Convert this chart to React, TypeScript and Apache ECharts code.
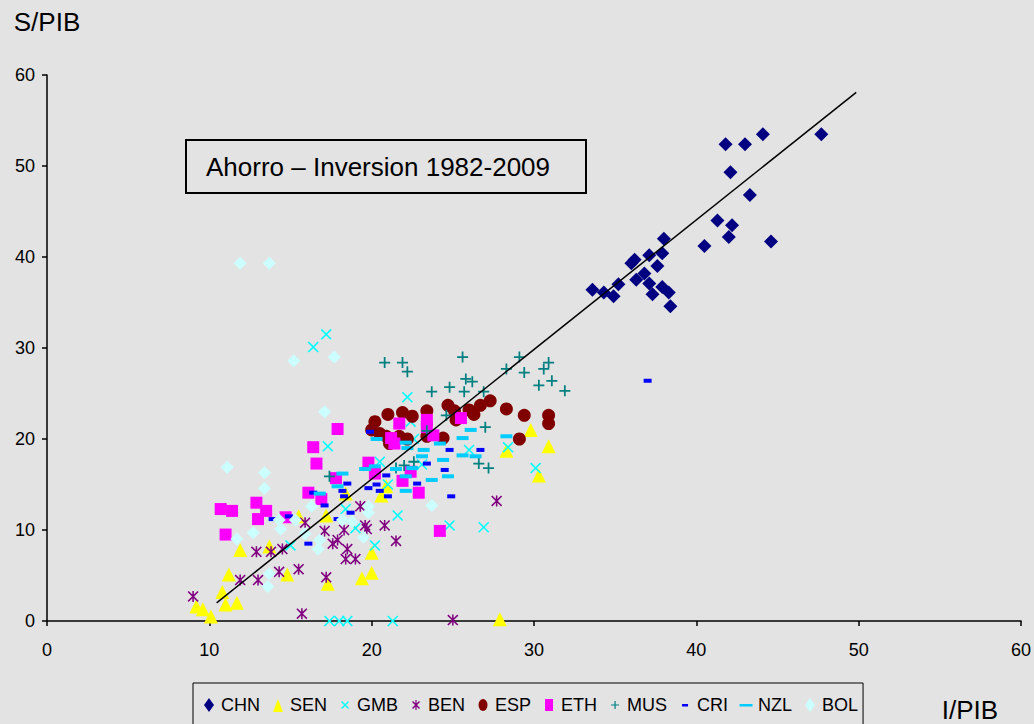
import React, { useEffect, useRef } from "react";
import * as echarts from "echarts";

const seriesNames = ["CHN", "SEN", "GMB", "BEN", "ESP", "ETH", "MUS", "CRI", "NZL", "BOL"];
const seriesColors = ["#000080", "#ffff00", "#00ffff", "#800080", "#800000", "#ff00ff", "#008080", "#0000ff", "#00ccff", "#ccffff"];

const CHN = [
  [33.6, 36.4], [34.3, 36.1], [34.9, 35.7], [35.2, 37.0], [36.2, 39.7], [36.0, 39.3], [36.3, 37.5],
  [36.8, 38.2], [37.1, 40.2], [37.1, 37.1], [37.3, 35.9], [37.6, 39.0], [37.9, 40.4], [37.9, 36.7],
  [38.0, 42.0], [38.3, 36.1], [38.4, 34.6], [40.5, 41.2], [41.3, 44.0], [41.8, 52.4], [42.0, 42.2],
  [42.1, 49.3], [42.2, 43.5], [43.0, 52.4], [43.3, 46.8], [44.1, 53.5], [44.6, 41.7], [47.7, 53.5],
];
const SEN = [
  [9.2, 1.6], [9.6, 1.3], [10.1, 0.5], [10.8, 3.2], [11.0, 1.8], [11.2, 5.1], [11.7, 2.0], [11.9, 7.8],
  [13.7, 8.2], [14.8, 5.1], [15.5, 11.5], [17.2, 11.6], [17.3, 4.1], [18.4, 14.0], [19.4, 4.7],
  [20.0, 5.3], [20.0, 7.5], [20.6, 13.8], [20.9, 14.8], [27.9, 0.2], [28.3, 18.7], [29.8, 21.0],
  [30.3, 16.0], [30.9, 19.2],
];
const GMB = [
  [15.0, 8.3], [16.4, 30.1], [17.2, 31.5], [17.3, 19.2], [17.4, 0], [18.0, 0], [18.5, 0], [18.4, 12.3],
  [19.0, 10.2], [20.2, 8.3], [20.5, 17.5], [21.0, 15.0], [21.3, 0], [21.6, 11.6], [22.2, 24.6],
  [22.4, 21.9], [22.6, 20.0], [23.1, 17.2], [24.8, 10.5], [26.0, 18.8], [26.9, 10.3], [28.4, 19.1],
  [30.1, 16.8],
];
const BEN = [
  [9.0, 2.7], [11.9, 4.5], [12.9, 7.6], [13.0, 4.5], [13.8, 7.6], [14.3, 5.4], [14.5, 7.9], [15.5, 5.7],
  [15.7, 0.8], [15.9, 10.8], [17.1, 9.9], [17.2, 4.8], [17.6, 8.5], [17.9, 8.9], [18.3, 10.0],
  [18.4, 6.8], [18.5, 7.9], [19.0, 6.8], [19.3, 12.6], [19.6, 10.5], [19.7, 10.1], [20.8, 10.5],
  [21.5, 8.8], [25.0, 0.1], [27.7, 13.2],
];
const ESP = [
  [20.0, 21.0], [20.2, 21.9], [20.5, 20.6], [20.9, 20.3], [21.0, 22.7], [21.1, 19.5], [21.7, 20.3],
  [21.9, 22.9], [22.2, 20.0], [22.5, 22.5], [23.4, 23.1], [23.4, 20.3], [24.4, 20.1], [24.7, 23.7],
  [25.1, 23.1], [25.2, 22.1], [26.0, 23.2], [26.3, 22.7], [26.7, 23.7], [27.3, 24.2], [28.3, 23.3],
  [29.1, 20.0], [29.4, 22.6], [30.9, 22.6], [30.9, 21.7],
];
const ETH = [
  [10.7, 12.3], [11.0, 9.5], [11.4, 12.1], [12.9, 13.0], [13.0, 11.2], [13.5, 12.1], [14.7, 11.4],
  [16.1, 14.1], [16.4, 19.1], [16.6, 17.3], [16.9, 13.4], [17.8, 15.7], [17.9, 21.1], [19.8, 17.4],
  [20.2, 16.2], [21.2, 20.1], [21.4, 19.5], [21.7, 21.7], [21.9, 15.4], [22.4, 16.4], [22.9, 14.1],
  [23.4, 22.1], [23.4, 21.3], [23.8, 20.4], [24.2, 9.9], [25.5, 22.3],
];
const MUS = [
  [17.4, 15.9], [20.8, 28.4], [21.5, 16.8], [21.9, 28.4], [22.0, 17.1], [22.2, 27.4], [22.6, 17.5],
  [23.4, 20.9], [23.7, 25.2], [24.6, 22.6], [24.8, 25.7], [25.6, 29.0], [25.7, 25.2], [25.8, 26.6],
  [26.2, 26.3], [26.6, 17.3], [26.9, 25.2], [27.0, 21.3], [27.2, 16.8], [28.3, 27.7], [29.1, 29.0],
  [29.4, 27.3], [30.3, 25.9], [30.6, 27.7], [30.9, 28.4], [31.1, 26.4], [31.9, 25.3],
];
const CRI = [
  [13.9, 11.2], [14.9, 11.5], [16.1, 8.5], [16.4, 14.1], [17.1, 12.7], [17.9, 11.2], [18.2, 14.3],
  [18.3, 13.7], [18.5, 15.1], [18.7, 11.9], [19.8, 14.6], [19.9, 20.8], [20.3, 15.0], [20.5, 14.3],
  [20.9, 16.0], [21.0, 13.7], [22.8, 15.1], [23.4, 17.3], [24.5, 16.6], [24.8, 18.8], [24.9, 13.7],
  [26.7, 18.8], [37.0, 26.4],
];
const NZL = [
  [16.8, 14.0], [17.9, 14.8], [18.2, 16.2], [19.6, 16.7], [20.2, 17.0], [20.3, 20.0], [21.5, 16.7],
  [22.1, 19.6], [22.2, 19.0], [22.1, 15.9], [22.1, 14.3], [22.5, 16.8], [23.1, 18.1], [23.2, 18.8],
  [23.7, 15.5], [24.2, 19.5], [24.4, 17.7], [24.7, 15.9], [25.6, 20.1], [25.6, 18.2], [26.1, 21.0],
  [26.4, 18.1], [28.3, 20.3],
];
const BOL = [
  [11.7, 9.0], [11.9, 39.3], [11.1, 16.9], [12.7, 9.7], [13.4, 16.3], [13.4, 14.6], [13.6, 3.8],
  [13.7, 5.2], [13.7, 39.3], [14.3, 11.1], [14.4, 10.1], [15.2, 28.6], [15.3, 11.1], [15.9, 9.6],
  [16.3, 12.6], [16.7, 7.9], [16.8, 8.9], [17.1, 23.0], [17.7, 29.0], [18.2, 11.1], [18.8, 10.9],
  [19.5, 9.2], [19.8, 12.6], [19.8, 11.9], [23.7, 12.7],
];
const trendLine = [[10.45, 2.0], [49.85, 58.1]];

const titleText = "Ahorro – Inversion 1982-2009";
const yName = "S/PIB";
const xName = "I/PIB";

const X_PATH = "path://M0,1L1,0L5,4L9,0L10,1L6,5L10,9L9,10L5,6L1,10L0,9L4,5Z";
const STAR_PATH = "path://M0,1L1,0L5,4L9,0L10,1L6,5L10,9L9,10L5,6L1,10L0,9L4,5ZM4.3,0L5.7,0L5.7,10L4.3,10Z";
const PLUS_PATH = "path://M4.2,0L5.8,0L5.8,4.2L10,4.2L10,5.8L5.8,5.8L5.8,10L4.2,10L4.2,5.8L0,5.8L0,4.2L4.2,4.2Z";

const seriesSymbols: any[] = ["diamond", "triangle", X_PATH, STAR_PATH, "circle", "rect", PLUS_PATH, "rect", "rect", "diamond"];
const seriesSizes: any[] = [14, 14, 11, 11, 13, 12, 11, [8, 4], [12, 4], 13];

// legend icons in a 14x14 frame
const F = "path://M0,0M14,14";
const legendIcons = [
  F + "M7,0L12,7L7,14L2,7Z",
  F + "M7,1L12,14L2,14Z",
  F + "M3,4L4,3L7,6L10,3L11,4L8,7L11,10L10,11L7,8L4,11L3,10L6,7Z",
  F + "M3,4L4,3L7,6L10,3L11,4L8,7L11,10L10,11L7,8L4,11L3,10L6,7ZM6.4,2L7.6,2L7.6,12L6.4,12Z",
  F + "M7,1A4.5,6,0,1,1,7,13A4.5,6,0,1,1,7,1Z",
  F + "M3,1L11,1L11,13L3,13Z",
  F + "M6.4,3L7.6,3L7.6,6.4L11,6.4L11,7.6L7.6,7.6L7.6,11L6.4,11L6.4,7.6L3,7.6L3,6.4L6.4,6.4Z",
  F + "M4,6L10,6L10,8.5L4,8.5Z",
  F + "M0.5,6L13.5,6L13.5,8.5L0.5,8.5Z",
  F + "M7,0L12,7L7,14L2,7Z",
];

const seriesData = [CHN, SEN, GMB, BEN, ESP, ETH, MUS, CRI, NZL, BOL];

const FONT = "'Liberation Sans', Arial, sans-serif";

export default function App() {
  const ref = useRef<HTMLDivElement>(null);
  useEffect(() => {
    document.body.style.margin = "0";
    const chart = echarts.init(ref.current!, null, { renderer: "svg" });
    const scatter = seriesNames.map((name, i) => ({
      name,
      type: "scatter",
      data: seriesData[i],
      symbol: seriesSymbols[i],
      symbolSize: seriesSizes[i],
      itemStyle: { color: seriesColors[i], opacity: 1 },
      z: 2 + i * 0.01,
    }));
    chart.setOption({
      animation: false,
      backgroundColor: "#e3e3e3",
      textStyle: { fontFamily: FONT },
      grid: { left: 47, right: 11, top: 75, bottom: 103, containLabel: false },
      xAxis: {
        type: "value",
        min: 0,
        max: 60,
        interval: 10,
        axisLine: { show: true, lineStyle: { color: "#000", width: 1.5 } },
        axisTick: { show: true, inside: false, length: 5, lineStyle: { color: "#000", width: 1.5 } },
        axisLabel: { color: "#000", fontSize: 18, margin: 20, fontFamily: FONT },
        splitLine: { show: false },
      },
      yAxis: {
        type: "value",
        min: 0,
        max: 60,
        interval: 10,
        name: yName,
        nameLocation: "end",
        nameGap: 53,
        nameTextStyle: { color: "#000", fontSize: 26, fontFamily: FONT, verticalAlign: "middle", align: "center" },
        axisLine: { show: true, lineStyle: { color: "#000", width: 1.5 } },
        axisTick: { show: true, inside: false, length: 5, lineStyle: { color: "#000", width: 1.5 } },
        axisLabel: { color: "#000", fontSize: 18, margin: 12, fontFamily: FONT },
        splitLine: { show: false },
      },
      legend: {
        data: seriesNames.map((n, i) => ({ name: n, icon: legendIcons[i] })),
        left: 193,
        top: 683,
        orient: "horizontal",
        itemWidth: 14,
        itemHeight: 14,
        itemGap: 11,
        padding: [13, 5, 20, 9],
        borderColor: "#000",
        borderWidth: 1,
        borderRadius: 0,
        textStyle: { color: "#000", fontSize: 18, fontFamily: FONT },
        selectedMode: false,
      },
      graphic: [
        {
          type: "rect",
          shape: { x: 186, y: 140, width: 400, height: 53 },
          style: { fill: "#e3e3e3", stroke: "#000", lineWidth: 2 },
          z: 10,
        },
        {
          type: "text",
          x: 206,
          y: 167,
          style: { text: titleText, fill: "#000", font: `26px ${FONT}`, verticalAlign: "middle" },
          z: 11,
        },
        {
          type: "text",
          x: 970,
          y: 710,
          style: { text: xName, fill: "#000", font: `26px ${FONT}`, align: "center", verticalAlign: "middle" },
          z: 11,
        },
      ],
      series: [
        ...scatter,
        {
          name: "trend",
          type: "line",
          data: trendLine,
          symbol: "none",
          lineStyle: { color: "#000", width: 1.5 },
          z: 5,
          silent: true,
        },
      ],
    });
    return () => chart.dispose();
  }, []);
  return <div ref={ref} style={{ width: 1034, height: 724 }} />;
}
